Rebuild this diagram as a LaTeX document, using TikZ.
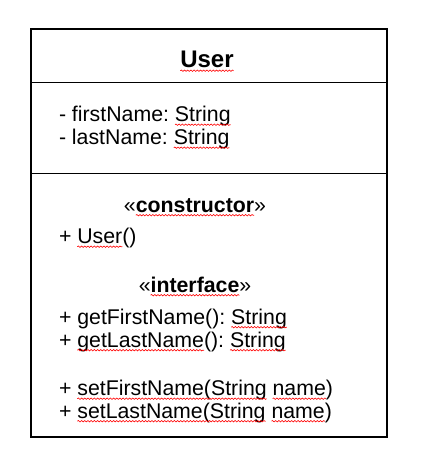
\documentclass[tikz,border=0pt]{standalone}
\usepackage{fontspec}
\setmainfont{Liberation Sans}
\usetikzlibrary{decorations.pathmorphing}
\tikzset{
  txt/.style={anchor=base west, inner sep=0pt, outer sep=0pt, font=\fontsize{21.3}{23}\selectfont},
  btxt/.style={inner sep=0pt, outer sep=0pt, font=\fontsize{21.3}{23}\selectfont\bfseries},
  gtxt/.style={inner sep=0pt, outer sep=0pt, font=\fontsize{21.3}{23}\selectfont},
  ttl/.style={anchor=base, inner sep=0pt, outer sep=0pt, font=\fontsize{24}{26}\selectfont\bfseries},
  wav/.style={draw=red, line width=0.6pt, decorate, decoration={snake, amplitude=0.7pt, segment length=3.2pt}},
  border/.style={draw=black, line width=1.6pt},
  divider/.style={draw=black, line width=1pt}
}
\newcommand{\wavyline}[1]{\draw[wav] ([yshift=-3.2pt]#1.base west) -- ([yshift=-3.2pt]#1.base east);}
\newcommand{\keepsp}{\ \mbox{}}
\begin{document}
\begin{tikzpicture}[x=1pt,y=-1pt]
\fill[white] (0,0) rectangle (425,472);
\useasboundingbox (0,0) rectangle (425,472);
% class box
\draw[border] (31,29) rectangle (387,437);
\coordinate (d1l) at (31,82.3);
\coordinate (d1r) at (387,82.3);
\coordinate (d2l) at (31,173.3);
\coordinate (d2r) at (387,173.3);
\draw[divider] (d1l) -- (d1r);
\draw[divider] (d2l) -- (d2r);
% title
\node[ttl] (title) at (207,67.5) {User};
\wavyline{title}
% attributes
\node[txt] (a1a) at (59,121.5) {- firstName:\keepsp};
\node[txt] (a1b) at (a1a.base east) {String};
\wavyline{a1b}
\node[txt] (a2a) at (59,144.5) {- lastName:\keepsp};
\node[txt] (a2b) at (a2a.base east) {String};
\wavyline{a2b}
% constructor stereotype
\node[btxt, anchor=base] (c1b) at (195,212) {constructor};
\node[gtxt, anchor=base east] (c1a) at (c1b.base west) {«};
\node[gtxt, anchor=base west] (c1c) at (c1b.base east) {»};
\wavyline{c1b}
\node[txt] (c2a) at (59,243.5) {+\keepsp};
\node[txt] (c2b) at (c2a.base east) {User};
\node[txt] (c2c) at (c2b.base east) {()};
\wavyline{c2b}
% interface stereotype
\node[btxt, anchor=base] (i1b) at (195,292) {interface};
\node[gtxt, anchor=base east] (i1a) at (i1b.base west) {«};
\node[gtxt, anchor=base west] (i1c) at (i1b.base east) {»};
\wavyline{i1b}
\node[txt] (m1a) at (59,324) {+ getFirstName():\keepsp};
\node[txt] (m1b) at (m1a.base east) {String};
\wavyline{m1b}
\node[txt] (m2a) at (59,347) {+\keepsp};
\node[txt] (m2b) at (m2a.base east) {getLastName};
\node[txt] (m2c) at (m2b.base east) {():\keepsp};
\node[txt] (m2d) at (m2c.base east) {String};
\wavyline{m2b}
\wavyline{m2d}
\node[txt] (s1a) at (59,395.5) {+\keepsp};
\node[txt] (s1b) at (s1a.base east) {setFirstName(String};
\node[txt] (s1c) at (s1b.base east) {\keepsp};
\node[txt] (s1d) at (s1c.base east) {name};
\node[txt] (s1e) at (s1d.base east) {)};
\wavyline{s1b}
\wavyline{s1d}
\node[txt] (s2a) at (59,418) {+\keepsp};
\node[txt] (s2b) at (s2a.base east) {setLastName(String};
\node[txt] (s2c) at (s2b.base east) {\keepsp};
\node[txt] (s2d) at (s2c.base east) {name};
\node[txt] (s2e) at (s2d.base east) {)};
\wavyline{s2b}
\wavyline{s2d}
\end{tikzpicture}
\end{document}
